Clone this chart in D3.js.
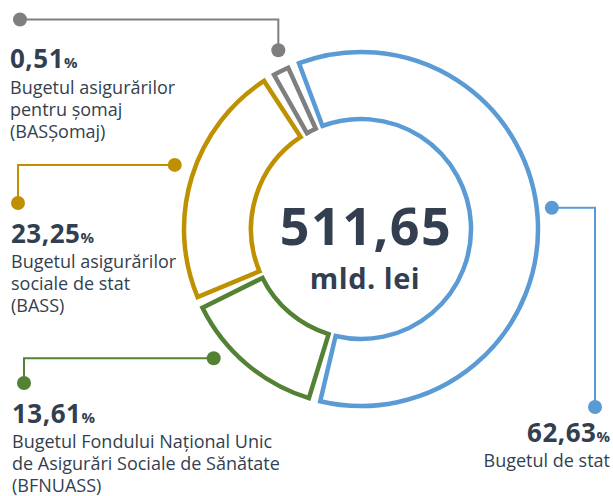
<!DOCTYPE html>
<html><head><meta charset="utf-8">
<script src="https://cdn.jsdelivr.net/npm/d3@7"></script>
<style>html,body{margin:0;padding:0;background:#fff;} svg{display:block;font-family:"Open Sans",sans-serif;}</style>
</head><body><svg id="c" width="613" height="496"></svg>
<script>
// ---- data ----
const categories = ["Bugetul de stat", "BFNUASS", "BASS", "BASȘomaj"];
const shares = [62.63, 13.61, 23.25, 0.51];
const descriptions = [
  ["Bugetul de stat"],
  ["Bugetul Fondului Național Unic", "de Asigurări Sociale de Sănătate", "(BFNUASS)"],
  ["Bugetul asigurărilor", "sociale de stat", "(BASS)"],
  ["Bugetul asigurărilor", "pentru șomaj", "(BASȘomaj)"]
];
const totalValue = 511.65;
const totalUnit = "mld. lei";

// ---- style / layout ----
const colors = ["#5B9BD5", "#548235", "#BF9000", "#7F7F7F"];
const textColor = "#333F50";
const W = 613, H = 496, cx = 361, cy = 229, rOuter = 177, rInner = 110;
const padDeg = 3.8, startDeg = -22.4, minVisibleShare = 1.5;
const leaders = [
  {frac: 0.487, r: 192, bend: "h", endX: 595, endY: 407, anchor: "end",   textX: 610, numY: 442, lineY0: 467},
  {frac: 0.68,  r: 196, bend: "h", endX: 24,  endY: 383, anchor: "start", textX: 12,  numY: 423, lineY0: 448},
  {frac: 0.524, r: 197, bend: "h", endX: 18,  endY: 203, anchor: "start", textX: 11,  numY: 243, lineY0: 268},
  {frac: 0.9,   r: 197, bend: "v", endX: 20,  endY: 19.5, anchor: "start", textX: 10, numY: 68,  lineY0: 94}
];

const fmt = d3.formatLocale({decimal: ",", thousands: ".", grouping: [3], currency: ["", ""]}).format(".2f");
const rad = d => d * Math.PI / 180;

const data = categories.map((c, i) => ({cat: c, share: shares[i], i}));
const pie = d3.pie().sort(null)
  .value(d => Math.max(d.share, minVisibleShare))
  .padAngle(rad(padDeg))
  .startAngle(rad(startDeg)).endAngle(rad(startDeg) + 2 * Math.PI);
const arcs = pie(data);

const arc = d3.arc().innerRadius(rInner).outerRadius(rOuter)
  .startAngle(d => d.startAngle + d.padAngle / 2)
  .endAngle(d => d.endAngle - d.padAngle / 2)
  .padAngle(0);

const svg = d3.select("#c");
const g = svg.append("g").attr("transform", `translate(${cx},${cy})`);
g.selectAll("path.seg").data(arcs).join("path")
  .attr("class", "seg")
  .attr("d", arc)
  .attr("fill", "#fff")
  .attr("stroke", d => colors[d.data.i])
  .attr("stroke-width", 4.5)
  .attr("stroke-linejoin", "miter");

// center text
svg.append("text").attr("x", cx + 5).attr("y", 245).attr("text-anchor", "middle")
  .attr("font-size", 52).attr("font-weight", 700).attr("letter-spacing", 1.5).attr("fill", textColor)
  .text(fmt(totalValue));
svg.append("text").attr("x", cx + 4).attr("y", 289).attr("text-anchor", "middle")
  .attr("font-size", 29).attr("font-weight", 700).attr("letter-spacing", 0.5).attr("fill", textColor)
  .text(totalUnit);

// leaders + labels
arcs.forEach(a => {
  const i = a.data.i, L = leaders[i], col = colors[i];
  const s = a.startAngle + a.padAngle / 2, e = a.endAngle - a.padAngle / 2;
  const ang = s + (e - s) * L.frac;
  const px = cx + L.r * Math.sin(ang), py = cy - L.r * Math.cos(ang);
  const corner = L.bend === "h" ? [L.endX, py] : [px, L.endY];
  svg.append("path")
    .attr("d", d3.line()([[px, py], corner, [L.endX, L.endY]]))
    .attr("fill", "none").attr("stroke", col).attr("stroke-width", 2);
  svg.append("circle").attr("cx", px).attr("cy", py).attr("r", 7).attr("fill", col);
  svg.append("circle").attr("cx", L.endX).attr("cy", L.endY).attr("r", 7).attr("fill", col);

  const num = svg.append("text").attr("x", L.textX).attr("y", L.numY)
    .attr("text-anchor", L.anchor).attr("fill", textColor).attr("font-weight", 700);
  num.append("tspan").attr("font-size", 26).attr("letter-spacing", 0.5).text(fmt(a.data.share));
  num.append("tspan").attr("font-size", 15).text("%");

  descriptions[i].forEach((line, j) => {
    svg.append("text").attr("x", L.textX).attr("y", L.lineY0 + j * 22)
      .attr("text-anchor", L.anchor).attr("fill", textColor)
      .attr("font-size", 18).text(line);
  });
});
</script></body></html>
